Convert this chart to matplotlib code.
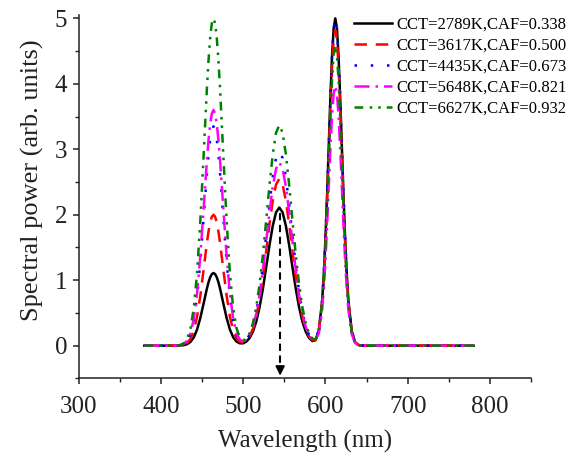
# Spectral power distributions for five CCT / CAF combinations

import matplotlib
matplotlib.use("Agg")
import matplotlib.pyplot as plt
from matplotlib.ticker import MultipleLocator


# Wavelength samples (nm), denser around the peak tips
WAVELENGTH = [380, 420, 424, 428, 432, 436, 440, 444, 448, 452,
              456, 458, 460, 462, 464, 466, 468, 470, 472, 476,
              480, 484, 488, 492, 496, 500, 504, 508, 512, 516,
              520, 524, 528, 532, 536, 540, 544, 548, 552, 556,
              560, 564, 568, 572, 576, 580, 584, 588, 592, 596,
              598, 600, 602, 604, 606, 608, 610, 612, 614, 616,
              618, 620, 622, 624, 626, 628, 632, 636, 640, 644, 648, 780]

SPD_2789K = [0, 0, 0.003, 0.008, 0.023, 0.057, 0.125, 0.244, 0.422, 0.644,
             0.871, 0.969, 1.045, 1.093, 1.110, 1.093, 1.045, 0.969, 0.871, 0.644,
             0.422, 0.245, 0.127, 0.062, 0.036, 0.036, 0.063, 0.119, 0.217, 0.369,
             0.587, 0.867, 1.194, 1.532, 1.829, 2.036, 2.110, 2.036, 1.829, 1.532,
             1.194, 0.867, 0.587, 0.369, 0.217, 0.120, 0.071, 0.084, 0.233, 0.682,
             1.085, 1.626, 2.290, 3.033, 3.774, 4.413, 4.846, 5.000, 4.846, 4.413,
             3.774, 3.033, 2.289, 1.624, 1.082, 0.677, 0.220, 0.056, 0.011, 0.002, 0, 0]

SPD_3617K = [0, 0, 0.005, 0.015, 0.042, 0.103, 0.226, 0.440, 0.760, 1.160,
             1.570, 1.746, 1.882, 1.970, 2.000, 1.970, 1.882, 1.746, 1.570, 1.160,
             0.760, 0.441, 0.228, 0.109, 0.057, 0.049, 0.078, 0.145, 0.262, 0.446,
             0.709, 1.048, 1.443, 1.851, 2.211, 2.461, 2.550, 2.461, 2.211, 1.851,
             1.443, 1.048, 0.709, 0.446, 0.262, 0.145, 0.084, 0.088, 0.227, 0.659,
             1.046, 1.567, 2.208, 2.924, 3.638, 4.254, 4.672, 4.820, 4.672, 4.254,
             3.638, 2.923, 2.207, 1.565, 1.043, 0.652, 0.212, 0.054, 0.011, 0.001, 0, 0]

SPD_4435K = [0, 0, 0.008, 0.025, 0.070, 0.173, 0.379, 0.737, 1.273, 1.943,
             2.630, 2.925, 3.152, 3.300, 3.350, 3.300, 3.152, 2.925, 2.630, 1.943,
             1.273, 0.738, 0.382, 0.180, 0.088, 0.065, 0.093, 0.169, 0.305, 0.520,
             0.826, 1.221, 1.681, 2.156, 2.575, 2.866, 2.970, 2.866, 2.575, 2.156,
             1.681, 1.221, 0.826, 0.520, 0.305, 0.168, 0.096, 0.096, 0.237, 0.684,
             1.086, 1.626, 2.291, 3.033, 3.774, 4.413, 4.846, 5.000, 4.846, 4.413,
             3.774, 3.033, 2.289, 1.624, 1.082, 0.677, 0.220, 0.056, 0.011, 0.002, 0, 0]

SPD_5648K = [0, 0, 0.009, 0.027, 0.075, 0.186, 0.407, 0.792, 1.368, 2.088,
             2.826, 3.143, 3.388, 3.546, 3.600, 3.546, 3.388, 3.143, 2.826, 2.088,
             1.368, 0.793, 0.410, 0.193, 0.092, 0.065, 0.089, 0.160, 0.288, 0.490,
             0.778, 1.151, 1.585, 2.033, 2.428, 2.702, 2.800, 2.702, 2.428, 2.033,
             1.585, 1.151, 0.778, 0.490, 0.288, 0.158, 0.089, 0.082, 0.191, 0.544,
             0.863, 1.292, 1.819, 2.409, 2.997, 3.504, 3.848, 3.970, 3.848, 3.504,
             2.997, 2.408, 1.818, 1.289, 0.859, 0.537, 0.174, 0.044, 0.009, 0.001, 0, 0]

SPD_6627K = [0, 0, 0.012, 0.038, 0.104, 0.258, 0.565, 1.100, 1.900, 2.900,
             3.925, 4.365, 4.705, 4.925, 5.000, 4.925, 4.705, 4.365, 3.925, 2.900,
             1.900, 1.101, 0.568, 0.266, 0.124, 0.083, 0.108, 0.193, 0.346, 0.590,
             0.937, 1.385, 1.907, 2.447, 2.922, 3.252, 3.370, 3.252, 2.922, 2.447,
             1.907, 1.385, 0.937, 0.590, 0.346, 0.191, 0.107, 0.096, 0.222, 0.629,
             0.998, 1.493, 2.103, 2.785, 3.465, 4.051, 4.449, 4.590, 4.449, 4.051,
             3.465, 2.784, 2.101, 1.490, 0.993, 0.621, 0.202, 0.051, 0.010, 0.001, 0, 0]

LABELS = ["CCT=2789K,CAF=0.338", "CCT=3617K,CAF=0.500", "CCT=4435K,CAF=0.673",
          "CCT=5648K,CAF=0.821", "CCT=6627K,CAF=0.932"]

ARROW_NM = 545      # Green peak marker
ARROW_TOP = 2.03


plt.rcParams['font.family'] = ['Liberation Serif', 'DejaVu Serif']

fig = plt.figure(figsize=(5.73, 4.57), dpi=100)
ax = fig.add_axes([0.137, 0.172, 0.790, 0.795])

lw = 1.8
series = [SPD_2789K, SPD_3617K, SPD_4435K, SPD_5648K, SPD_6627K]
colors = ['black', '#ff0000', '#0000ff', '#ff00ff', '#008000']
dashes = [None, (5, 3.5), (1, 5.5), (6, 2.4, 1, 2.4), (3.5, 2.6, 1, 2.4, 1, 2.4)]

for spd, c, d, lab in zip(series, colors, dashes, LABELS):
    if d is None:
        ax.plot(WAVELENGTH, spd, color=c, lw=lw, label=lab)
    else:
        ax.plot(WAVELENGTH, spd, color=c, lw=lw, dashes=d, label=lab)

# Flecha punteada en el pico verde
ax.plot([ARROW_NM, ARROW_NM], [ARROW_TOP, -0.35], color='black', lw=1.5, dashes=(3.5, 2.2))
ax.annotate('', xy=(ARROW_NM, -0.5), xytext=(ARROW_NM, -0.3),
            arrowprops=dict(arrowstyle='-|>', color='black', lw=1.2, mutation_scale=14))

ax.set_xlim(300, 850)
ax.set_ylim(-0.5, 5.05)
ax.xaxis.set_major_locator(MultipleLocator(100))
ax.xaxis.set_minor_locator(MultipleLocator(50))
ax.yaxis.set_major_locator(MultipleLocator(1))
ax.yaxis.set_minor_locator(MultipleLocator(0.5))

for side in ['top', 'right']:
    ax.spines[side].set_visible(False)
for side in ['left', 'bottom']:
    ax.spines[side].set_linewidth(1.1)
    ax.spines[side].set_color('#222222')

ax.tick_params(which='major', direction='out', length=4.5, width=1.1, colors='#222222', labelsize=18)
ax.tick_params(which='minor', direction='out', length=2.8, width=1.0, colors='#222222')
ax.tick_params(axis='x', which='major', pad=8)
ax.tick_params(axis='y', which='major', pad=3.5)

ax.set_xlabel('Wavelength (nm)', fontsize=18, color='#222222')
ax.set_ylabel('Spectral power (arb. units)', fontsize=19, color='#222222')
ax.xaxis.set_label_coords(0.5, -0.143)
ax.yaxis.set_label_coords(-0.076, 0.546)

ax.legend(loc='upper left', bbox_to_anchor=(354 / 573, 1 - 16.5 / 457),
          bbox_transform=fig.transFigure, frameon=False, fontsize=12.0,
          borderpad=0, borderaxespad=0, handlelength=2.25, handletextpad=0.3,
          labelspacing=0.3)

plt.savefig('out.png', dpi=100)
